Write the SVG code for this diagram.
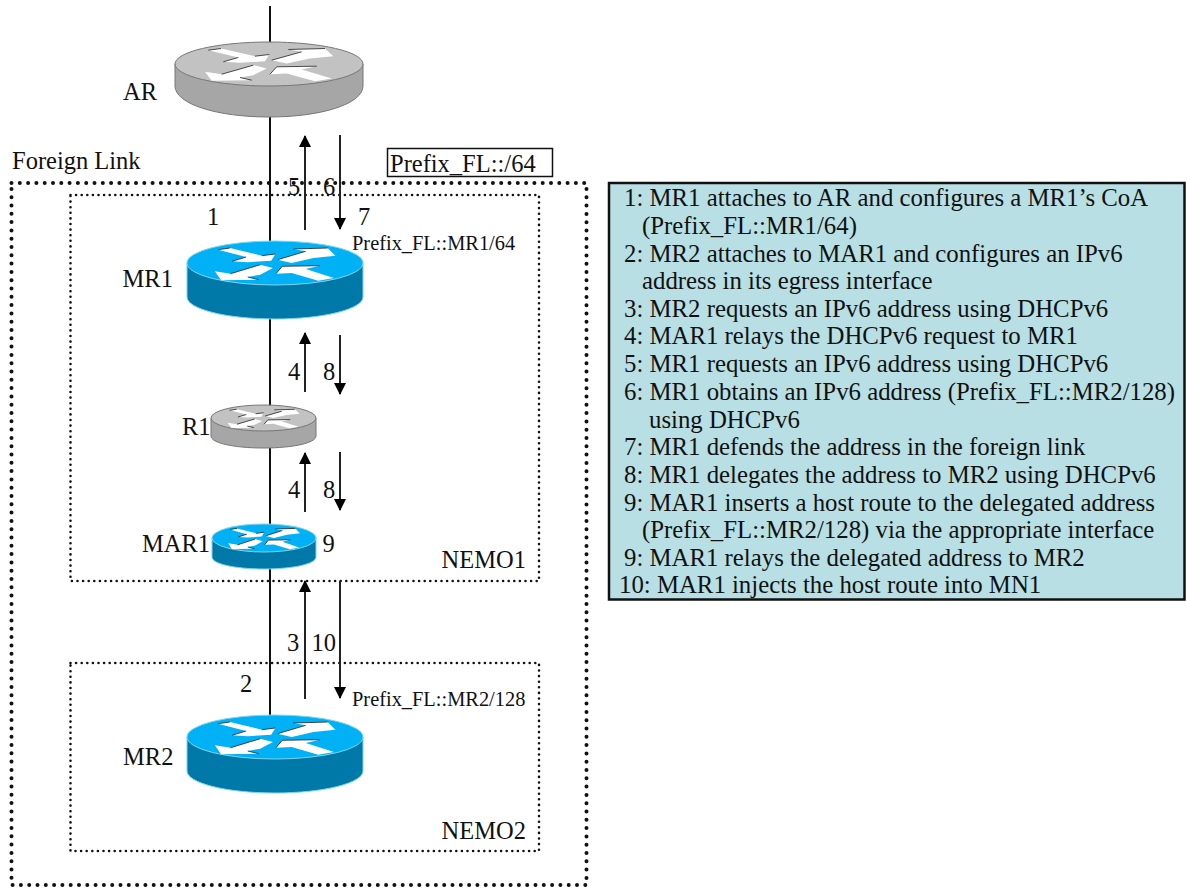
<svg xmlns="http://www.w3.org/2000/svg" width="1187" height="888" viewBox="0 0 1187 888">
<style>
text{font-family:"Liberation Serif","Times New Roman",serif;font-size:24.500px;fill:#111}
.small{font-size:20.400px}
#legend text{font-size:24.800px}
.wire{stroke:#111;stroke-width:2;fill:none}
.flow{stroke:#222;stroke-width:2;fill:none}
.up{marker-start:url(#head)}
.down{marker-end:url(#head)}
.outer{fill:none;stroke:#111;stroke-width:4;stroke-linecap:round;stroke-dasharray:0 8.3}
.inner{fill:none;stroke:#111;stroke-width:2.6;stroke-linecap:round;stroke-dasharray:0 5.6}
.gray .top{fill:#c2c2c2;stroke:#777;stroke-width:1}
.gray .side{fill:#a6a6a6;stroke:#777;stroke-width:1}
.blue .top{fill:#00b2f5;stroke:#7fd4ee;stroke-width:1}
.blue .side{fill:#0079a8;stroke:#7fd4ee;stroke-width:1}
.arrows polygon{fill:#fff}
.arrows polyline{fill:none;stroke:#222;stroke-width:.8;vector-effect:non-scaling-stroke}
</style>
<defs>
<marker id="head" viewBox="0 0 12 12" refX="11" refY="6" markerUnits="userSpaceOnUse" markerWidth="12" markerHeight="12" orient="auto-start-reverse"><path d="M0 0L12 6L0 12Z" fill="#000"/></marker>
<g id="glyph" class="arrows">
<polygon points="-60.7,-13.3 -48,-15 -14,-7.3 .3,-9 -4,-2.3 -29,-.7 -45.7,-1.7 -30.7,-6"/>
<polygon points="19.3,-14 56,-15 64.3,-7.3 41,-5 17.7,0 2.7,-3.3 32.7,-11.7"/>
<polygon points="-64,8.3 -47.3,10.7 -15.7,1.7 -2.3,5 -15.7,11.7 -29,14 -17.3,16.7 -57.3,17.3"/>
<polygon points="1,10.7 7.7,3.3 47.7,2.7 32.7,6 62.7,15 46,17.7 17.7,10"/>
<polyline points="-60.7,-13.3 -48,-15"/>
<polyline points="-45.7,-1.7 -30.7,-6"/>
<polyline points="-14,-7.3 .3,-9"/>
<polyline points="2.7,-3.3 32.7,-11.7"/>
<polyline points="19.3,-14 56,-15"/>
<polyline points="-47.3,10.7 -15.7,1.7"/>
<polyline points="1,10.7 7.7,3.3 47.7,2.7"/>
<polyline points="-29,14 -17.3,16.7"/>
</g>
</defs>
<rect width="1187" height="888" fill="#fff"/>
<g id="zones">
<rect class="outer" x="11.5" y="183" width="575" height="702"/>
<rect class="inner" x="70.5" y="195" width="468.5" height="386"/>
<rect class="inner" x="70.5" y="663" width="468.5" height="188"/>
</g>
<g id="connectors">
<path class="wire" d="M270 6V730"/>
<path class="flow up" d="M305 136V230"/>
<path class="flow down" d="M340 135V229"/>
<path class="flow up" d="M305 333V392"/>
<path class="flow down" d="M340 335V394"/>
<path class="flow up" d="M305 453V512"/>
<path class="flow down" d="M340 452V510"/>
<path class="flow up" d="M305 581V699"/>
<path class="flow down" d="M340 581V698"/>
</g>
<g id="node-AR" class="gray">
<path class="side" d="M175 64V86C175 104 217 117 269 117S363 104 363 86V64Z"/>
<ellipse class="top" cx="269" cy="64" rx="94" ry="22"/>
<use href="#glyph" transform="translate(269 63.5)"/>
<text x="123" y="100">AR</text>
</g>
<g id="node-MR1" class="blue">
<path class="side" d="M187 263V297C187 309 226 319 275 319S363 309 363 297V263Z"/>
<ellipse class="top" cx="275" cy="263" rx="88" ry="22"/>
<use href="#glyph" transform="translate(275 263) scale(.94 1)"/>
<text x="122.500" y="287">MR1</text>
</g>
<g id="node-R1" class="gray">
<path class="side" d="M211 418V436C211 443 234 448 263.500 448S316 443 316 436V418Z"/>
<ellipse class="top" cx="263.500" cy="418" rx="52.500" ry="13"/>
<use href="#glyph" transform="translate(263.500 418) scale(.56 .58)"/>
<text x="182" y="435">R1</text>
</g>
<g id="node-MAR1" class="blue">
<path class="side" d="M212 538V557C212 564 235 569 264 569S316 564 316 557V538Z"/>
<ellipse class="top" cx="264" cy="538" rx="52" ry="14"/>
<use href="#glyph" transform="translate(264 538) scale(.56 .64)"/>
<text x="142" y="552">MAR1</text>
</g>
<g id="node-MR2" class="blue">
<path class="side" d="M187 737V771C187 783 226 793 275 793S363 783 363 771V737Z"/>
<ellipse class="top" cx="275" cy="737" rx="88" ry="22"/>
<use href="#glyph" transform="translate(275 737) scale(.94 1)"/>
<text x="123" y="765">MR2</text>
</g>
<g id="labels">
<text x="12" y="169">Foreign Link</text>
<text x="288" y="195">5</text>
<text x="323" y="195">6</text>
<text x="207" y="225">1</text>
<text x="358" y="225">7</text>
<text class="small" x="352" y="250">Prefix_FL::MR1/64</text>
<text x="288" y="380">4</text>
<text x="323" y="380">8</text>
<text x="288" y="498">4</text>
<text x="323" y="498">8</text>
<text x="322.500" y="552">9</text>
<text x="441.500" y="567.500">NEMO1</text>
<text x="287" y="651">3</text>
<text x="311.500" y="651">10</text>
<text x="240" y="692">2</text>
<text class="small" x="352" y="706">Prefix_FL::MR2/128</text>
<text x="441.500" y="839">NEMO2</text>
</g>
<g id="prefix-box">
<rect x="387.500" y="148.500" width="165" height="28" fill="#fff" stroke="#111" stroke-width="1.500"/>
<text x="390" y="172">Prefix_FL::/64</text>
</g>
<g id="legend">
<rect x="609" y="183" width="575.500" height="416.500" fill="#b8dfe4" stroke="#111" stroke-width="2.500"/>
<text x="624" y="206">1: MR1 attaches to AR and configures a MR1’s CoA</text>
<text x="642" y="233.500">(Prefix_FL::MR1/64)</text>
<text x="624" y="261.500">2: MR2 attaches to MAR1 and configures an IPv6</text>
<text x="642" y="289">address in its egress interface</text>
<text x="624" y="316.500">3: MR2 requests an IPv6 address using DHCPv6</text>
<text x="624" y="344">4: MAR1 relays the DHCPv6 request to MR1</text>
<text x="624" y="372">5: MR1 requests an IPv6 address using DHCPv6</text>
<text x="624" y="400">6: MR1 obtains an IPv6 address (Prefix_FL::MR2/128)</text>
<text x="649" y="427.500">using DHCPv6</text>
<text x="624" y="455">7: MR1 defends the address in the foreign link</text>
<text x="624" y="482.500">8: MR1 delegates the address to MR2 using DHCPv6</text>
<text x="624" y="510.500">9: MAR1 inserts a host route to the delegated address</text>
<text x="642" y="538">(Prefix_FL::MR2/128) via the appropriate interface</text>
<text x="624" y="565.500">9: MAR1 relays the delegated address to MR2</text>
<text x="619" y="593">10: MAR1 injects the host route into MN1</text>
</g>
</svg>
